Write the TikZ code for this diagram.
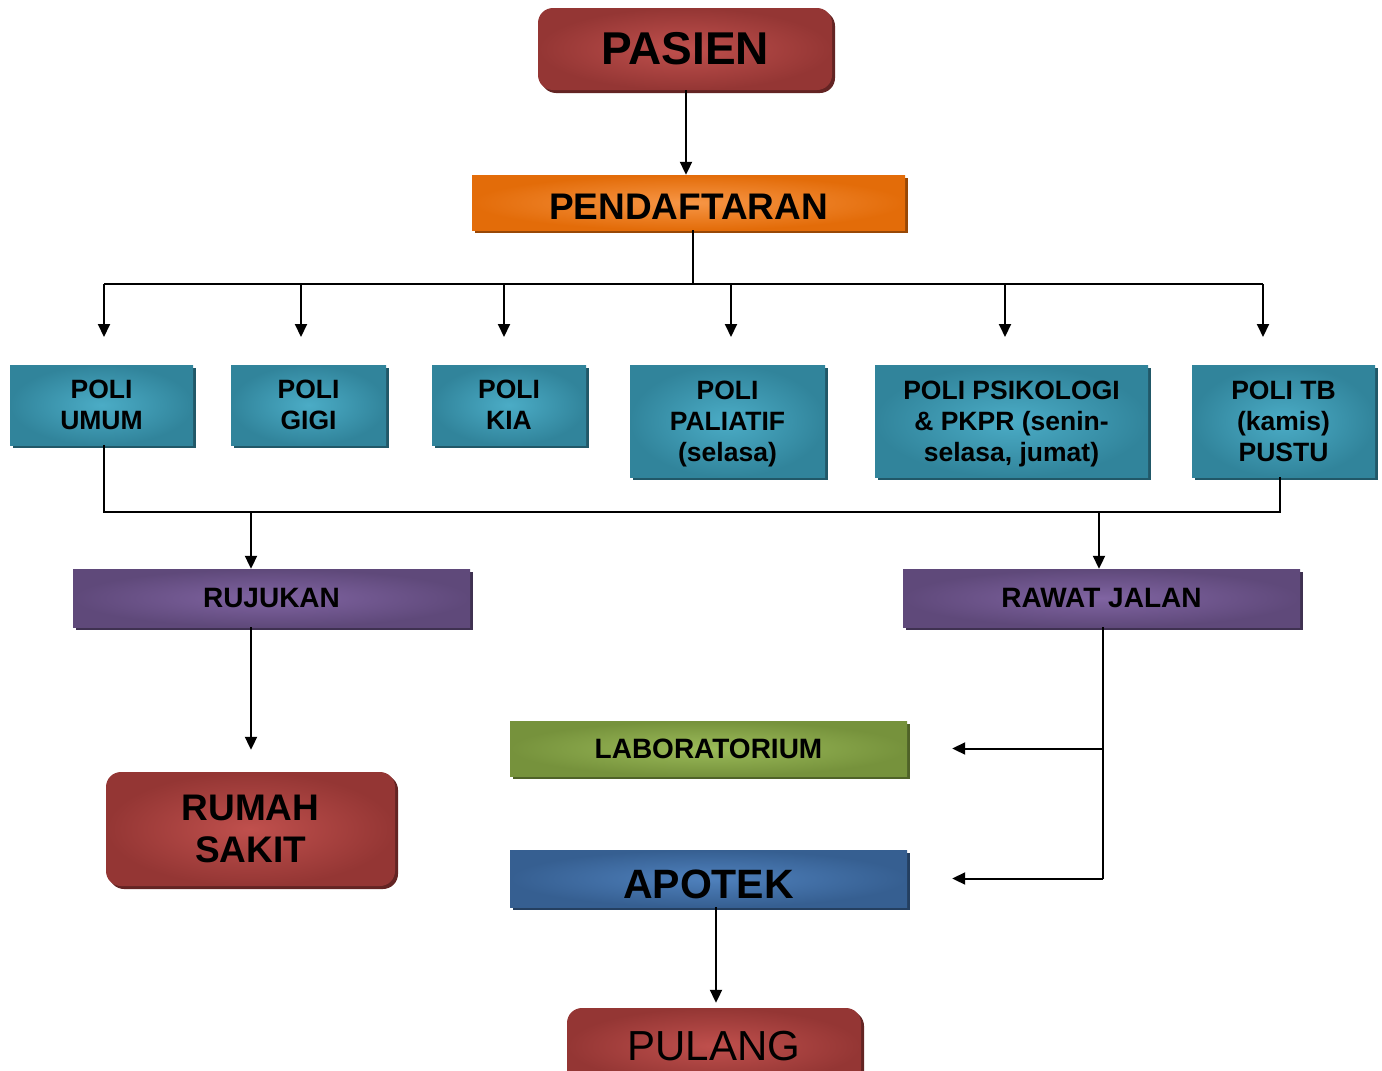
\documentclass[tikz,border=0pt]{standalone}
\usepackage{fontspec}
\setmainfont{Liberation Sans}
\usetikzlibrary{arrows.meta,shadows,calc}

\definecolor{redIn}{HTML}{C0504D}\definecolor{redOut}{HTML}{943634}\definecolor{redSh}{HTML}{632423}
\definecolor{orIn}{HTML}{F79646}\definecolor{orOut}{HTML}{E36C09}\definecolor{orSh}{HTML}{984806}
\definecolor{tlIn}{HTML}{4BACC6}\definecolor{tlOut}{HTML}{31849B}\definecolor{tlSh}{HTML}{215868}
\definecolor{puIn}{HTML}{8064A2}\definecolor{puOut}{HTML}{5F497A}\definecolor{puSh}{HTML}{3F3151}
\definecolor{grIn}{HTML}{9BBB59}\definecolor{grOut}{HTML}{76923C}\definecolor{grSh}{HTML}{4F6228}
\definecolor{blIn}{HTML}{4F81BD}\definecolor{blOut}{HTML}{365F91}\definecolor{blSh}{HTML}{243F60}

% a line whose descenders do not move the text block
\newcommand{\nodepth}[1]{\raisebox{0pt}[\height][0pt]{#1}}

\tikzset{
  box/.style n args={3}{shading=radial, inner color=#1, outer color=#2,
    general shadow={fill=#3, shadow xshift=3pt, shadow yshift=-3pt},
    inner sep=0pt, align=center, text=black},
  redbox/.style={box={redIn}{redOut}{redSh}, rounded corners=15pt},
  orbox/.style={box={orIn}{orOut}{orSh}},
  tlbox/.style={box={tlIn}{tlOut}{tlSh}, font=\fontsize{26.5}{31}\selectfont\bfseries},
  pubox/.style={box={puIn}{puOut}{puSh}, font=\fontsize{28}{32}\selectfont\bfseries},
  grbox/.style={box={grIn}{grOut}{grSh}, font=\fontsize{28}{32}\selectfont\bfseries},
  blbox/.style={box={blIn}{blOut}{blSh}, font=\fontsize{41}{46}\selectfont\bfseries},
  line/.style={line width=2pt, draw=black},
  arr/.style={line, -{Triangle[length=13pt,width=12pt]}},
}

\begin{document}
\begin{tikzpicture}[x=1pt,y=-1pt]
\useasboundingbox[fill=white] (0,0) rectangle (1382,1071);

% main boxes
\node[redbox, minimum width=294pt, minimum height=82pt, font=\fontsize{46}{50}\selectfont\bfseries]
  (pasien) at (685,49) {PASIEN};
\node[orbox, minimum width=433pt, minimum height=55pt, font=\fontsize{37}{40}\selectfont\bfseries,
  text height=34.5pt, text depth=0pt]
  (pend) at (688.5,202.5) {PENDAFTARAN};

% clinics
\node[tlbox, minimum width=183pt, minimum height=80pt] (umum) at (101.5,405) {POLI\\UMUM};
\node[tlbox, minimum width=155pt, minimum height=80pt] (gigi) at (308.5,405) {POLI\\GIGI};
\node[tlbox, minimum width=154pt, minimum height=80pt] (kia) at (509,405) {POLI\\KIA};
\node[tlbox, minimum width=195pt, minimum height=112pt] (paliatif) at (727.5,421)
  {POLI\\PALIATIF\\\nodepth{(selasa)}};
\node[tlbox, minimum width=273pt, minimum height=112pt] (psiko) at (1011.5,421)
  {POLI PSIKOLOGI\\\& PKPR (senin-\\\nodepth{selasa, jumat)}};
\node[tlbox, minimum width=183pt, minimum height=112pt] (tb) at (1283.5,421) {POLI TB\\(kamis)\\PUSTU};

% follow-up
\node[pubox, minimum width=397pt, minimum height=58pt] (rujukan) at (271.5,598) {RUJUKAN};
\node[pubox, minimum width=397pt, minimum height=58pt] (rawat) at (1101.5,598) {RAWAT JALAN};
\node[grbox, minimum width=397pt, minimum height=55pt] (lab) at (708.5,748.5) {LABORATORIUM};
\node[blbox, minimum width=397pt, minimum height=57pt, text height=39pt, text depth=0pt]
  (apotek) at (708.5,878.5) {APOTEK};
\node[redbox, minimum width=289pt, minimum height=114pt, font=\fontsize{37}{42}\selectfont\bfseries]
  (rs) at (250.5,829) {RUMAH\\SAKIT};
\node[redbox, minimum width=294pt, minimum height=76pt, font=\fontsize{42}{46}\selectfont]
  (pulang) at (714,1046) {PULANG};

% connector coordinates
\coordinate (aP) at (686,90);
\coordinate (busT) at (693,284);
\coordinate (aUmum) at (104,337);
\coordinate (aGigi) at (301,337);
\coordinate (aKia) at (504,337);
\coordinate (aPal) at (731,337);
\coordinate (aPsi) at (1005,337);
\coordinate (aTb) at (1263,337);
\coordinate (bL) at (104,512);
\coordinate (bR) at (1280,512);
\coordinate (jR) at (251,512);
\coordinate (jW) at (1099,512);
\coordinate (rw) at (1103,630);
\coordinate (ap) at (716,910);

% connectors
\draw[arr] (pasien.south -| aP) -- (pend.north -| aP);
\draw[line] (pend.south -| busT) -- (busT);
\draw[line] (aUmum |- busT) -- (aTb |- busT);
\foreach \c in {aUmum,aGigi,aKia,aPal,aPsi,aTb}
  \draw[arr] (\c |- busT) -- (\c);

\draw[line] (umum.south -| bL) -- (bL) -- (bR) -- (tb.south -| bR);
\draw[arr] (jR) -- (rujukan.north -| jR);
\draw[arr] (jW) -- (rawat.north -| jW);

\draw[arr, shorten >=22pt] (rujukan.south -| jR) -- (rs.north -| jR);

\draw[line] (rawat.south -| rw) -- (apotek.east -| rw);
\draw[arr, shorten >=45pt] (lab.east -| rw) -- (lab.east);
\draw[arr, shorten >=45pt] (apotek.east -| rw) -- (apotek.east);

\draw[arr, shorten >=5pt] (apotek.south -| ap) -- (pulang.north -| ap);
\end{tikzpicture}
\end{document}
